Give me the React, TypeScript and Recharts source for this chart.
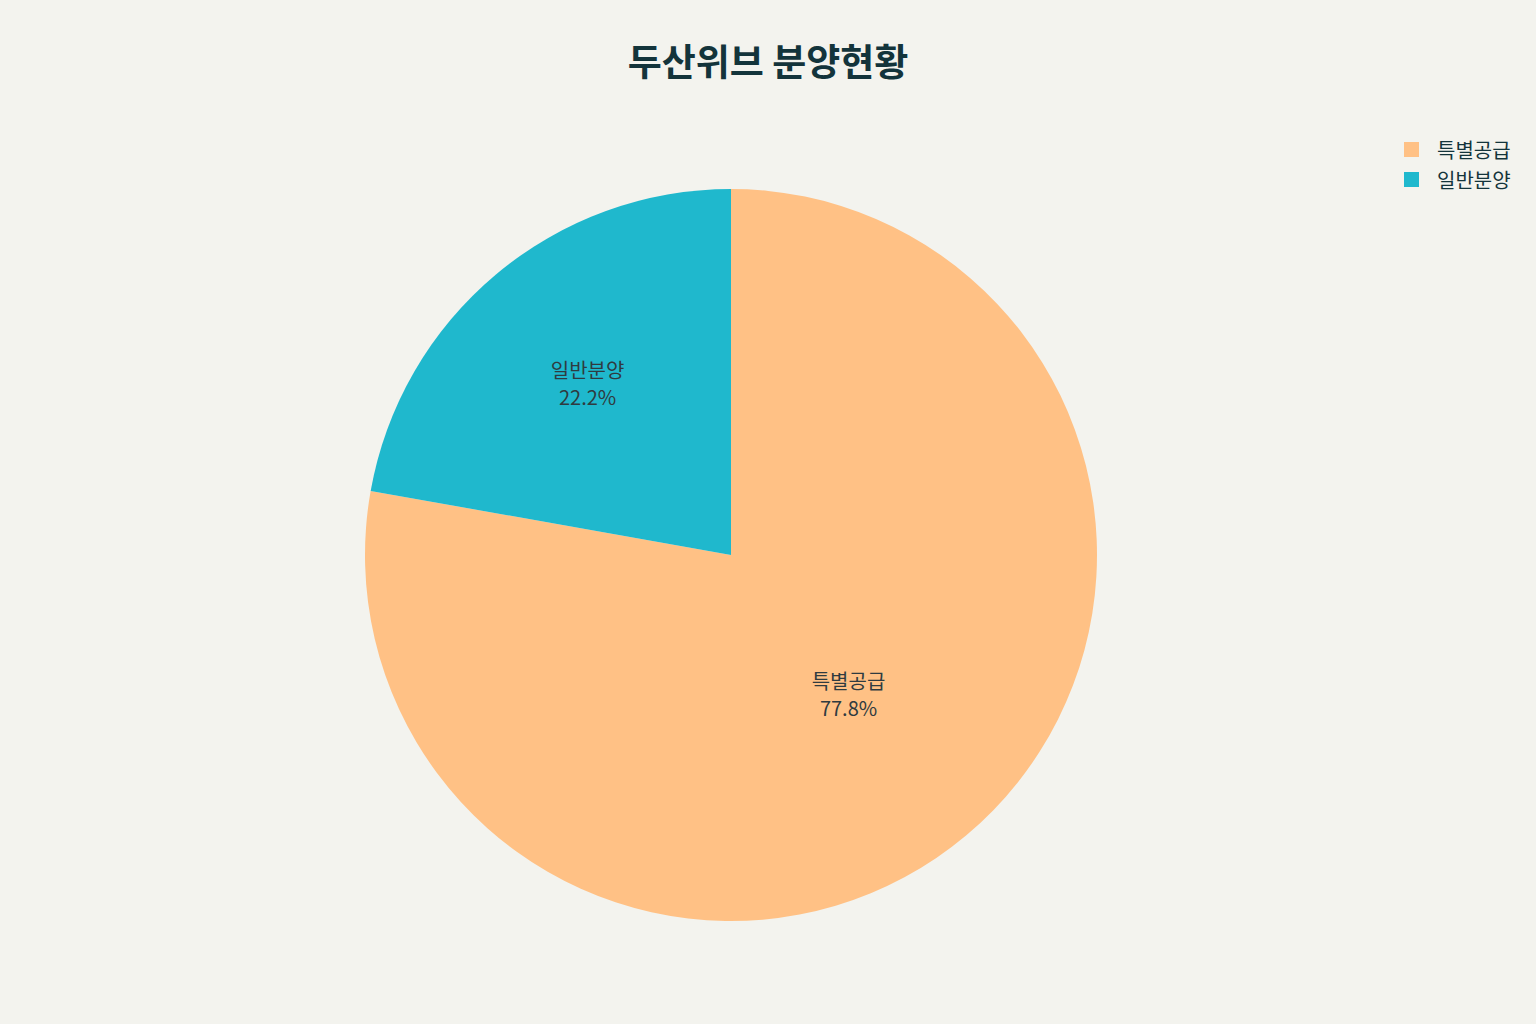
import React from 'react';
import { PieChart, Pie, Cell, Legend } from 'recharts';

const categories = ['특별공급', '일반분양'];
const shares = [77.8, 22.2];
const colors = ['#FFC185', '#1FB8CD'];

const data = categories.map((name, i) => ({ name, value: shares[i] }));

const FONT = '"Noto Sans CJK KR", "Noto Sans", sans-serif';
const RADIAN = Math.PI / 180;

// inside labels, the big slice sits a bit nearer the centre
const renderLabel = (props: any) => {
  const { cx, cy, midAngle, outerRadius, index, name, value } = props;
  const r = outerRadius * (index === 0 ? 0.5 : 0.61);
  const x = cx + r * Math.cos(-midAngle * RADIAN);
  const y = cy + r * Math.sin(-midAngle * RADIAN);
  return (
    <text x={x} y={y} textAnchor="middle" fill="#2f3b40" fontFamily={FONT} fontSize={20}>
      <tspan x={x} dy={-6}>{name}</tspan>
      <tspan x={x} dy={27}>{value.toFixed(1)}%</tspan>
    </text>
  );
};

const renderLegend = () => (
  <div style={{ fontFamily: FONT }}>
    {categories.map((c, i) => (
      <div key={c} style={{ display: 'flex', alignItems: 'center', height: 30 }}>
        <span style={{ width: 15, height: 15, background: colors[i], marginRight: 18 }} />
        <span style={{ fontSize: 20, color: '#13343B' }}>{c}</span>
      </div>
    ))}
  </div>
);

export default function App() {
  return (
    <div style={{ position: 'absolute', left: 0, top: 0, width: 1536, height: 1024, background: '#F3F3EE' }}>
      <div
        style={{
          position: 'absolute',
          top: 33,
          width: 1536,
          textAlign: 'center',
          fontFamily: FONT,
          fontWeight: 700,
          fontSize: 37,
          color: '#13343B',
        }}
      >
        두산위브 분양현황
      </div>
      <PieChart width={1536} height={1024} margin={{ top: 0, right: 0, bottom: 0, left: 0 }}>
        <Pie
          data={data}
          dataKey="value"
          nameKey="name"
          cx={731}
          cy={555}
          outerRadius={366}
          startAngle={90}
          endAngle={-270}
          stroke="none"
          label={renderLabel}
          labelLine={false}
          isAnimationActive={false}
        >
          {data.map((d, i) => (
            <Cell key={d.name} fill={colors[i]} />
          ))}
        </Pie>
        <Legend
          layout="vertical"
          align="right"
          verticalAlign="top"
          content={renderLegend}
          wrapperStyle={{ top: 134, left: 1404, right: 'auto', width: 'auto' }}
        />
      </PieChart>
    </div>
  );
}
